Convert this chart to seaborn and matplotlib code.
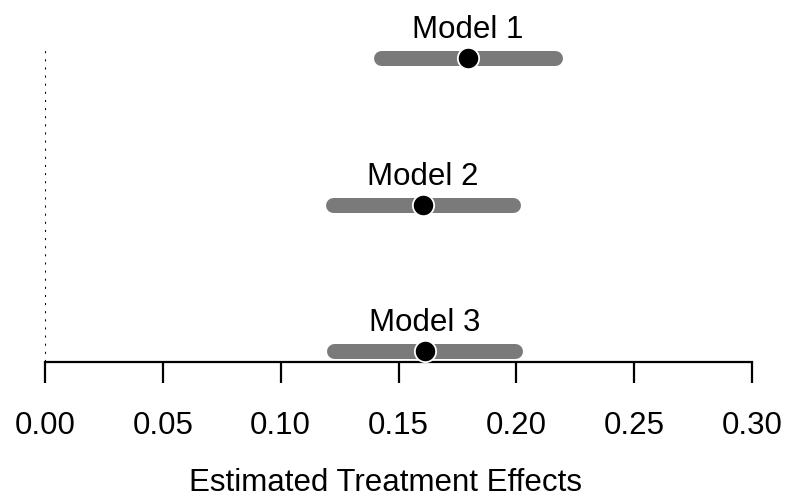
import matplotlib
matplotlib.use("Agg")
import matplotlib.pyplot as plt
import seaborn as sns
import pandas as pd

models = ["Model 1", "Model 2", "Model 3"]
estimates = [0.1795, 0.1602, 0.1612]
ci_low = [0.1426, 0.1221, 0.1227]
ci_high = [0.2166, 0.1985, 0.1994]
ypos = [3, 2, 1]
xticks = [0.00, 0.05, 0.10, 0.15, 0.20, 0.25, 0.30]
xlabel = "Estimated Treatment Effects"

df = pd.DataFrame({"model": models, "est": estimates, "lo": ci_low,
                   "hi": ci_high, "y": ypos})

sns.set_style("white")
plt.rcParams["font.family"] = ["Liberation Sans", "DejaVu Sans"]
plt.rcParams["text.color"] = "black"
plt.rcParams["xtick.color"] = "black"
plt.rcParams["axes.labelcolor"] = "black"

fig = plt.figure(figsize=(7.86, 4.98), dpi=100)
ax = fig.add_axes([45 / 786, (498 - 362) / 498, 707 / 786, 362 / 498])

# reference line at zero
ax.vlines(0, 0.925, 3.06, colors="black", linewidth=1.5,
          linestyles=(0, (1.0, 2.9)), zorder=1)

# confidence intervals
lc = ax.hlines(df["y"], df["lo"], df["hi"], colors="#7a7a7a",
               linewidth=10.8, zorder=2)
lc.set_capstyle("round")

# point estimates
sns.scatterplot(data=df, x="est", y="y", ax=ax, s=235, color="black",
                edgecolor="white", linewidth=1.3, zorder=3, legend=False)

for _, r in df.iterrows():
    ax.annotate(r["model"], (r["est"], r["y"]), xytext=(0, 14.4),
                textcoords="offset points", ha="center", va="baseline",
                fontsize=22.5, color="black")

ax.set_xlim(0, 0.30)
ax.set_ylim(0.925, 3.396)
ax.set_xticks(xticks)
ax.set_xticklabels([f"{t:.2f}" for t in xticks], fontsize=22.5, color="black")
ax.set_yticks([])
ax.set_xlabel("")
ax.set_ylabel("")
for s in ["top", "right", "left"]:
    ax.spines[s].set_visible(False)
ax.spines["bottom"].set_linewidth(1.6)
ax.spines["bottom"].set_color("black")
ax.tick_params(axis="x", direction="out", length=15, width=1.6,
               pad=20, colors="black", bottom=True)

fig.text(385.5 / 786, 1 - 483 / 498, xlabel, ha="center", va="center",
         fontsize=22.5, color="black")

fig.savefig("out.png", dpi=100)
